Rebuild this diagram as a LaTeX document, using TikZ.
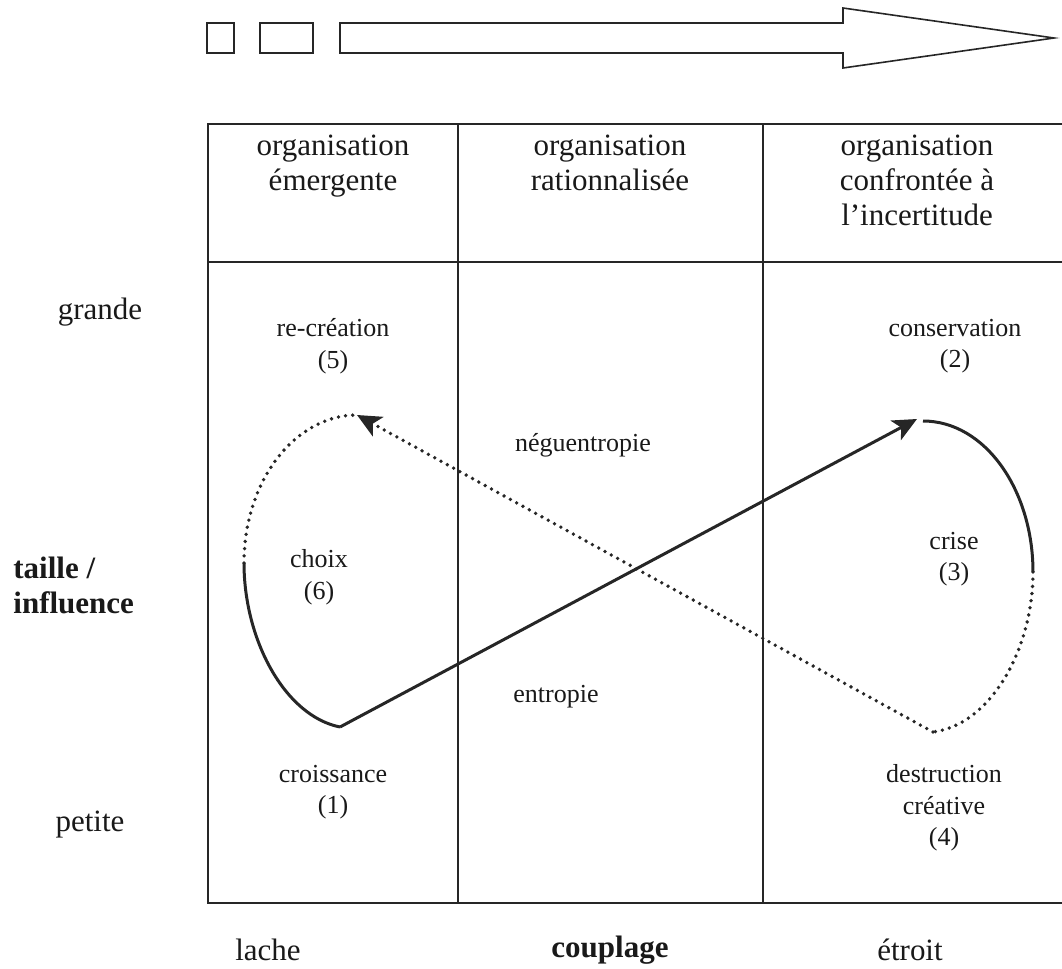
\documentclass[tikz,border=0pt]{standalone}
\usepackage{fontspec}
\setmainfont{Liberation Serif}
\usetikzlibrary{arrows.meta}
\begin{document}
\begin{tikzpicture}[x=0.5pt,y=-0.5pt,
  frame/.style={draw=black!85,line width=0.8pt},
  hdr/.style={align=center,font=\fontsize{15.5}{17.5}\selectfont,inner sep=0pt,text=black!90,anchor=north},
  axislbl/.style={font=\fontsize{15.5}{17.5}\selectfont,inner sep=0pt,text=black!90},
  phase/.style={align=center,font=\fontsize{13}{15.75}\selectfont,inner sep=0pt,text=black!90},
  solidln/.style={line width=1.5pt,black!85},
  dotln/.style={line width=1.9pt,black!85,line cap=round,dash pattern=on 0pt off 3.6pt},
  tip/.style={-{Stealth[length=12pt,width=11pt,inset=3pt]}}]
\useasboundingbox (0,0) rectangle (1062,969);

% progression arrow at the top
\draw[frame] (207,23) rectangle (234,53);
\draw[frame] (260,23) rectangle (313,53);
\draw[frame] (340,23) -- (843,23) -- (843,8) -- (1054,38) -- (843,68) -- (843,53) -- (340,53) -- cycle;

% table (its right side runs past the page edge)
\draw[frame] (1062,124) -- (208,124) -- (208,903) -- (1062,903);
\draw[frame] (208,262) -- (1062,262);
\draw[frame] (458,124) -- (458,903);
\draw[frame] (763,124) -- (763,903);

% column headers
\node[hdr] (h1) at (333,131) {\strut organisation\\\strut émergente};
\node[hdr] (h2) at (610,131) {\strut organisation\\\strut rationnalisée};
\node[hdr] (h3) at (917,131) {\strut organisation\\\strut confrontée à\\\strut l’incertitude};

% axis labels
\node[axislbl] (grande) at (100,312) {grande};
\node[axislbl,anchor=west,align=left,font=\fontsize{15.5}{17.5}\selectfont\bfseries] (taille) at (13,585) {taille /\\influence};
\node[axislbl] (petite) at (90,825) {petite};
\node[axislbl] (lache) at (268,950) {lache};
\node[axislbl,font=\fontsize{15.5}{17.5}\selectfont\bfseries] (couplage) at (610,950) {couplage};
\node[axislbl] (etroit) at (910,950) {étroit};

% phases of the cycle
\node[phase] (p5) at (333,346) {re-création\\(5)};
\node[phase] (p2) at (955,346) {conservation\\(2)};
\node[phase] (neg) at (583,445) {néguentropie};
\node[phase] (p6) at (319,577) {choix\\(6)};
\node[phase] (p3) at (954,559) {crise\\(3)};
\node[phase] (ent) at (556,697) {entropie};
\node[phase] (p1) at (333,792) {croissance\\(1)};
\node[phase] (p4) at (944,808) {destruction\\créative\\(4)};

% loop points
\coordinate (lw) at (244,563);
\coordinate (lb) at (340,727);
\coordinate (lt) at (357,415);
\coordinate (rt) at (917,419);
\coordinate (rs) at (923,421);
\coordinate (re) at (1033,572);
\coordinate (rb) at (933,732);

% solid half of the cycle
\draw[solidln] (lw) .. controls (244,640) and (285,716) .. (lb);
\draw[solidln,tip] (lb) -- (rt);
\draw[solidln] (rs) .. controls (985,421) and (1033,490) .. (re);

% dotted half of the cycle
\draw[dotln] (re) .. controls (1033,650) and (990,725) .. (rb);
\draw[dotln] (lw) .. controls (244,481) and (295,415) .. (lt);
\draw[dotln,tip] (rb) -- (lt);
\end{tikzpicture}
\end{document}
